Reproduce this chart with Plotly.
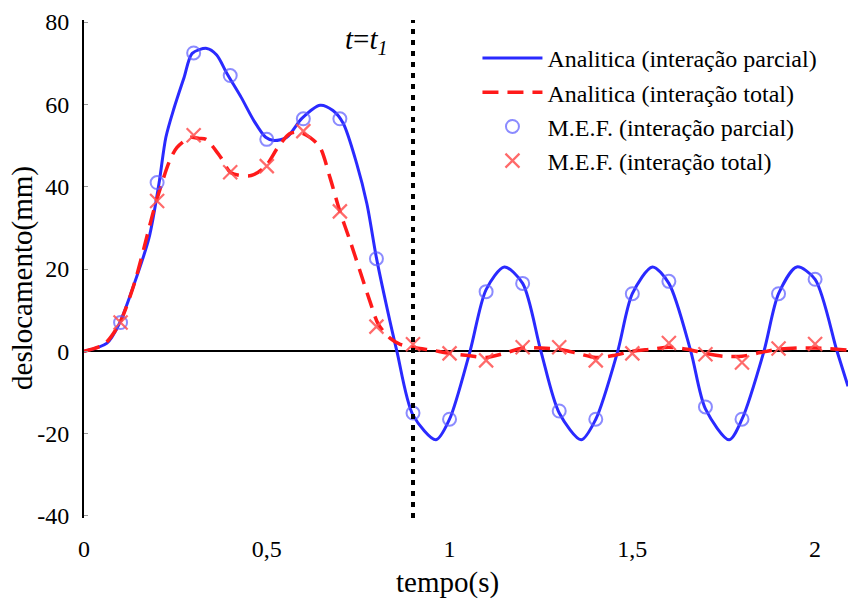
import plotly.graph_objects as go

# Analytic solution, partial interaction (blue solid)
t_an_parcial = [0, 0.063, 0.096, 0.137, 0.178, 0.205, 0.224, 0.246, 0.274, 0.296, 0.336, 0.363, 0.391,
                0.43, 0.465, 0.497, 0.52, 0.555, 0.596, 0.646, 0.681, 0.709, 0.746, 0.774, 0.80, 0.829,
                0.856, 0.9, 0.963, 1.0, 1.056, 1.1, 1.15, 1.2, 1.25,
                1.3, 1.36, 1.4, 1.46, 1.5, 1.555, 1.6, 1.66, 1.7, 1.765, 1.8, 1.86, 1.9, 1.95, 2.0, 2.06, 2.09]
y_an_parcial = [0, 2, 6.6, 16.3, 27.6, 40.7, 52, 59, 66.6, 72.4, 73.6, 72, 67.5,
                61.7, 56, 52, 51.2, 52, 56.6, 59.8, 58.5, 55.4, 45.6, 35.8, 22.7, 10.5,
                0, -15.5, -21.5, -16.5, 0, 15, 20.5, 16.5, 0,
                -15, -21.5, -16.5, 0, 14, 20.5, 16.5, 0, -14, -21.5, -16.5, 0, 14, 20.5, 17.5, 0, -8.5]

# Analytic solution, total interaction (red dashed)
t_an_total = [0, 0.055, 0.096, 0.137, 0.19, 0.21, 0.233, 0.254, 0.292, 0.315, 0.334, 0.375, 0.402, 0.457,
              0.497, 0.53, 0.563, 0.59, 0.618, 0.646, 0.673, 0.70, 0.728, 0.755, 0.782, 0.805, 0.837,
              0.865, 0.91, 0.95, 1.0, 1.05, 1.1, 1.15, 1.2, 1.25,
              1.3, 1.35, 1.4, 1.45, 1.5, 1.55, 1.6, 1.65, 1.7, 1.75, 1.8, 1.85, 1.9, 1.95, 2.0, 2.09]
y_an_total = [0, 1.7, 6.6, 16.3, 34, 40, 46, 49.5, 52, 51.7, 51.5, 47, 43.4, 42.7,
              45, 49.5, 52.9, 53.2, 52, 49.5, 42.2, 34, 26.8, 19.5, 12.2, 6.6, 3.2,
              1.7, 0.8, 0.3, -0.5, -1, -1.5, -0.5, 0.8, 0.8,
              0.5, -0.5, -1.5, -1, 0, 0.5, 1, 0.5, -0.5, -1.2, -1.2, -0.3, 0.5, 0.8, 0.8, 0.3]

# FEM results
t_mef = [0.1, 0.2, 0.3, 0.4, 0.5, 0.6, 0.7, 0.8, 0.9, 1.0, 1.1, 1.2, 1.3, 1.4, 1.5, 1.6, 1.7, 1.8, 1.9, 2.0]
y_mef_parcial = [7, 41, 72.5, 67, 51.5, 56.5, 56.5, 22.5, -15, -16.5, 14.5, 16.5, -14.5, -16.5, 14, 17,
                 -13.5, -16.5, 14, 17.5]
y_mef_total = [7, 36.5, 52.5, 43.5, 45, 53.5, 34, 6, 1.7, -0.5, -2.2, 1, 1, -2.2, -0.5, 2, -0.7, -2.7, 0.7, 1.8]

t1 = 0.9
x_ticks = [0, 0.5, 1, 1.5, 2]
x_tick_labels = ["0", "0,5", "1", "1,5", "2"]
y_ticks = [-40, -20, 0, 20, 40, 60, 80]
y_tick_labels = ["-40", "-20", "0", "20", "40", "60", "80"]

FONT = "Liberation Serif, Times New Roman, serif"
BLUE = "#2a2aff"
RED = "#ff1a1a"

fig = go.Figure()
fig.add_trace(go.Scatter(x=t_an_parcial, y=y_an_parcial, mode="lines",
                         line=dict(color=BLUE, width=3, shape="spline", smoothing=0.8),
                         name="Analitica (interação parcial)"))
fig.add_trace(go.Scatter(x=t_an_total, y=y_an_total, mode="lines",
                         line=dict(color=RED, width=3.5, dash="16px,9px", shape="spline", smoothing=0.8),
                         name="Analitica (interação total)"))
fig.add_trace(go.Scatter(x=t_mef, y=y_mef_parcial, mode="markers",
                         marker=dict(symbol="circle-open", size=13, color="rgba(90,90,255,0.7)",
                                     line=dict(width=2)),
                         name="M.E.F. (interação parcial)"))
fig.add_trace(go.Scatter(x=t_mef, y=y_mef_total, mode="markers",
                         marker=dict(symbol="x-thin-open", size=14, color="rgba(255,80,80,0.85)",
                                     line=dict(width=2.2, color="rgba(255,80,80,0.85)")),
                         name="M.E.F. (interação total)"))

fig.add_shape(type="line", x0=t1, x1=t1, y0=-40.5, y1=80.5, xref="x", yref="y",
              line=dict(color="black", width=4, dash="5px,6px"))

fig.add_annotation(x=t1, y=75.3, xref="x", yref="y", xanchor="right", yanchor="middle", xshift=-23,
                   text="<i>t</i>=<i>t</i><sub><i>1</i></sub>", showarrow=False,
                   font=dict(family=FONT, size=29, color="black"))

fig.add_annotation(x=0.476, y=0, xref="paper", yref="paper", text="tempo(s)", showarrow=False,
                   xanchor="center", yanchor="middle", yshift=-64,
                   font=dict(family=FONT, size=29, color="black"))
fig.add_annotation(x=0, y=0.482, xref="paper", yref="paper", text="deslocamento(mm)", showarrow=False,
                   textangle=-90, xanchor="center", yanchor="middle", xshift=-61,
                   font=dict(family=FONT, size=29, color="black"))

fig.update_layout(
    width=848, height=601,
    margin=dict(l=84, r=0, t=20, b=83),
    paper_bgcolor="white", plot_bgcolor="white",
    font=dict(family=FONT, size=24, color="black"),
    showlegend=True,
    legend=dict(x=0.515, y=0.968, xanchor="left", yanchor="top", bgcolor="rgba(0,0,0,0)",
                font=dict(family=FONT, size=24, color="black"), tracegroupgap=0,
                itemwidth=60),
    xaxis=dict(range=[0, 2.09], showgrid=False, zeroline=False, showline=False,
               tickmode="array", tickvals=x_ticks, ticktext=x_tick_labels, ticks="",
               ticklabelstandoff=14, tickfont=dict(family=FONT, size=24)),
    yaxis=dict(range=[-40.5, 80.5], showgrid=False, zeroline=True, zerolinecolor="black",
               zerolinewidth=2, showline=True, linecolor="black", linewidth=2,
               tickmode="array", tickvals=y_ticks, ticktext=y_tick_labels,
               ticks="inside", ticklen=4, tickcolor="#999999", ticklabelstandoff=8,
               tickfont=dict(family=FONT, size=24)),
)

fig.write_html("out.html")
